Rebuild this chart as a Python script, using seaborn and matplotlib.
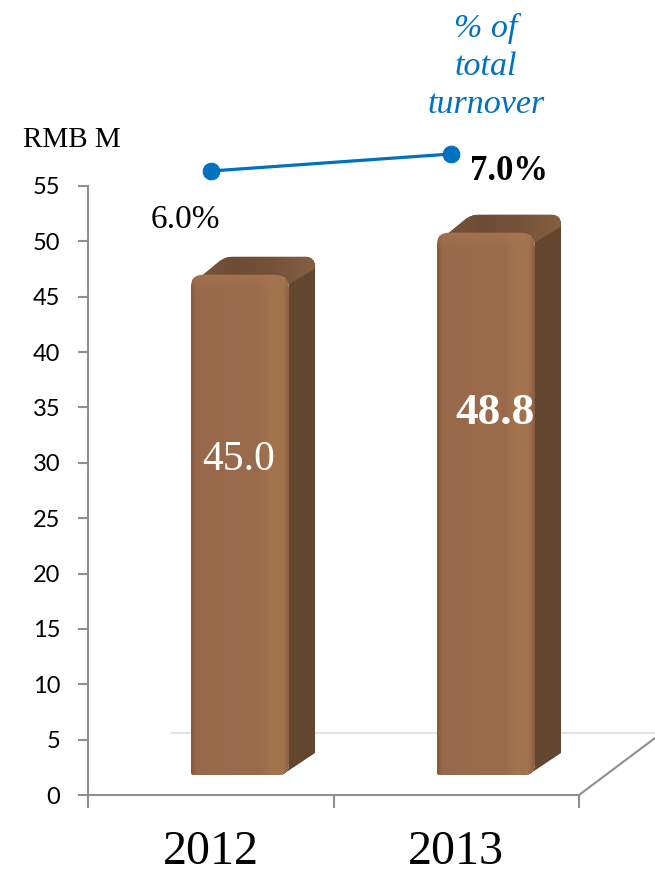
import numpy as np
import matplotlib
matplotlib.use("Agg")
import matplotlib.pyplot as plt
from matplotlib.path import Path as MPath
from matplotlib.patches import PathPatch
from matplotlib.lines import Line2D
from matplotlib.colors import to_rgb
from matplotlib.transforms import IdentityTransform
import seaborn as sns

# ---- data ----
years = ["2012", "2013"]
revenue = [45.0, 48.8]
share_pct = [6.0, 7.0]
y_ticks = list(range(0, 60, 5))

W, H = 655, 869
BLUE = "#0070c0"
GREY = "#8f8f8f"
SERIF = ["Liberation Serif", "DejaVu Serif"]

sns.set_style("white")
plt.rcParams["font.family"] = ["Lato", "DejaVu Sans"]

fig = plt.figure(figsize=(W / 100, H / 100), dpi=100, facecolor="white")


def add_px_axes(left, top, right, bottom):
    return fig.add_axes([left / W, 1 - bottom / H, (right - left) / W, (bottom - top) / H])


def px_text(x, y, s, **kw):
    fig.text(x / W, 1 - y / H, s, ha=kw.pop("ha", "center"), va=kw.pop("va", "center"), **kw)


def px_line(x0, y0, x1, y1, **kw):
    fig.add_artist(Line2D([x0 / W, x1 / W], [1 - y0 / H, 1 - y1 / H],
                          transform=fig.transFigure, **kw))


# ---- front frame: value axis and category axis ----
frame = add_px_axes(88, 186, 579, 795)
frame.set_xlim(-0.5, 1.5)
frame.set_ylim(0, 55)
frame.patch.set_alpha(0)
for side in ("top", "right"):
    frame.spines[side].set_visible(False)
for side in ("left", "bottom"):
    frame.spines[side].set_color(GREY)
    frame.spines[side].set_linewidth(1.5)
frame.set_yticks(y_ticks)
frame.set_yticklabels([str(t) for t in y_ticks], fontsize=17, color="black")
frame.tick_params(axis="y", length=7, width=1.5, color=GREY, pad=13, left=True)
frame.set_xticks([-0.5, 0.5, 1.5])
frame.set_xticklabels([])
frame.tick_params(axis="x", which="major", length=9.5, width=1.5, color=GREY, bottom=True)
frame.set_xticks([0, 1], minor=True)
frame.set_xticklabels(years, minor=True, fontsize=34.5, family=SERIF, color="black")
frame.tick_params(axis="x", which="minor", length=0, pad=25)

# floor of the 3D box
px_line(171, 732.5, 655, 732.5, color="#e4e4e4", lw=1.5, zorder=0)
px_line(579, 795, 655, 738, color=GREY, lw=1.5, zorder=0)
px_line(88, 795, 171, 732.5, color="#f8f8f8", lw=1, ls=":", zorder=0)

# ---- bars ----
bars_ax = add_px_axes(116.5, 775 - 609, 608.5, 775)
bars_ax.patch.set_alpha(0)
sns.barplot(x=years, y=revenue, color="#9b6b4a", saturation=1, width=97 / 246, ax=bars_ax)
bars_ax.set_xlim(-0.5, 1.5)
bars_ax.set_ylim(0, 55)
bars_ax.axis("off")


def rounded(points, radii):
    verts, codes = [], []
    n = len(points)
    for i in range(n):
        p = np.array(points[i], float)
        a = np.array(points[i - 1], float)
        b = np.array(points[(i + 1) % n], float)
        r = radii[i]
        ua = (a - p) / np.linalg.norm(a - p)
        ub = (b - p) / np.linalg.norm(b - p)
        verts += [p + ua * r, p, p + ub * r]
        codes += [MPath.MOVETO if i == 0 else MPath.LINETO, MPath.CURVE3, MPath.CURVE3]
    verts.append(verts[0])
    codes.append(MPath.CLOSEPOLY)
    return MPath(verts, codes)


def ramp(stops, t):
    pos = [s[0] for s in stops]
    cols = np.array([to_rgb(s[1]) for s in stops])
    return np.stack([np.interp(t, pos, cols[:, i]) for i in range(3)], axis=-1)


FRONT_STOPS = [(0, "#86593c"), (0.05, "#97694a"), (0.7, "#9b6c4c"), (0.8, "#a3734e"),
               (0.93, "#a4744f"), (1, "#8a6043")]
TOP_STOPS = [(0, "#7a573d"), (0.35, "#6d4c35"), (0.65, "#74523a"), (1, "#86603f")]

for bar in list(bars_ax.patches):
    (x0, yb), (x1, yt) = bars_ax.transData.transform(
        [(bar.get_x(), 0), (bar.get_x() + bar.get_width(), bar.get_height())])
    # right-hand side face
    side_path = MPath([(x1 - 6, yb), (x1 + 27, yb + 22), (x1 + 27, yt + 14), (x1 - 6, yt - 6), (x1 - 6, yb)],
                      [MPath.MOVETO, MPath.LINETO, MPath.LINETO, MPath.LINETO, MPath.CLOSEPOLY])
    bars_ax.add_patch(PathPatch(side_path, facecolor="#63462f", edgecolor="none",
                                transform=IdentityTransform(), clip_on=False, zorder=3))
    # top face
    top_path = rounded([(x0, yt - 8), (x0 + 34, yt + 20), (x1 + 27, yt + 20), (x1 + 27, yt + 8), (x1, yt - 8)],
                       [3, 8, 10, 3, 3])
    top_patch = PathPatch(top_path, facecolor="#74523a", edgecolor="none",
                          transform=IdentityTransform(), clip_on=False, zorder=4)
    bars_ax.add_patch(top_patch)
    t = np.linspace(0, 1, 64)[None, :]
    img = bars_ax.imshow(ramp(TOP_STOPS, t), extent=(x0, x1 + 27, yt - 8, yt + 20), origin="lower",
                         aspect="auto", transform=IdentityTransform(), zorder=4.5, interpolation="bilinear")
    img.set_clip_path(top_path, IdentityTransform())
    # rounded, shaded front face
    front_path = rounded([(x0, yb), (x1 + 1, yb), (x1 + 1, yt + 2), (x0, yt + 2)], [2, 11, 15, 12])
    bar.set_clip_path(front_path, IdentityTransform())
    bar.set_zorder(5)
    rows = np.arange(int(yt - yb) + 3)
    tt = np.linspace(0, 1, 97)
    tex = ramp(FRONT_STOPS, tt)[None, :, :].repeat(len(rows), axis=0)
    fade = np.clip((rows - (rows[-1] - 16)) / 16, 0, 1)[:, None, None]
    tex = tex + fade * (np.array(to_rgb("#a5754f")) - tex) * 0.8
    fimg = bars_ax.imshow(tex, extent=(x0, x1 + 1, yb, yt + 2), origin="lower", aspect="auto",
                          transform=IdentityTransform(), zorder=6, interpolation="bilinear")
    fimg.set_clip_path(front_path, IdentityTransform())
bars_ax.set_xlim(-0.5, 1.5)
bars_ax.set_ylim(0, 55)

# value labels inside the bars
bars_ax.text(0 - 0.005, revenue[0] - 16.5, f"{revenue[0]:.1f}", color="white", fontsize=30,
             family=SERIF, ha="center", va="center", zorder=8)
bars_ax.text(1 + 0.04, revenue[1] - 16.1, f"{revenue[1]:.1f}", color="white", fontsize=32.5,
             family=SERIF, weight="bold", ha="center", va="center", zorder=8)

# ---- share of turnover line ----
share_ax = add_px_axes(91, 130, 571, 190)
share_ax.patch.set_alpha(0)
sns.lineplot(x=years, y=share_pct, color=BLUE, lw=2.3, marker="o", markersize=12,
             markeredgecolor=BLUE, errorbar=None, ax=share_ax, clip_on=False)
share_ax.set_xlim(-0.5, 1.5)
share_ax.set_ylim(6 - 19 / 17, 6 + 41 / 17)
share_ax.axis("off")

# ---- annotations ----
px_text(72, 140, "RMB M", fontsize=21, family=SERIF, color="black")
px_text(185.5, 220, f"{share_pct[0]:.1f}%", fontsize=24, family=SERIF, color="black")
px_text(509.5, 171, f"{share_pct[1]:.1f}%", fontsize=25, family=SERIF, weight="bold", color="black")
for yy, line in zip((28, 67, 105), ("% of", "total", "turnover")):
    px_text(486, yy, line, fontsize=24.5, family=SERIF, style="italic", color=BLUE)

fig.savefig("out.png", dpi=100)
